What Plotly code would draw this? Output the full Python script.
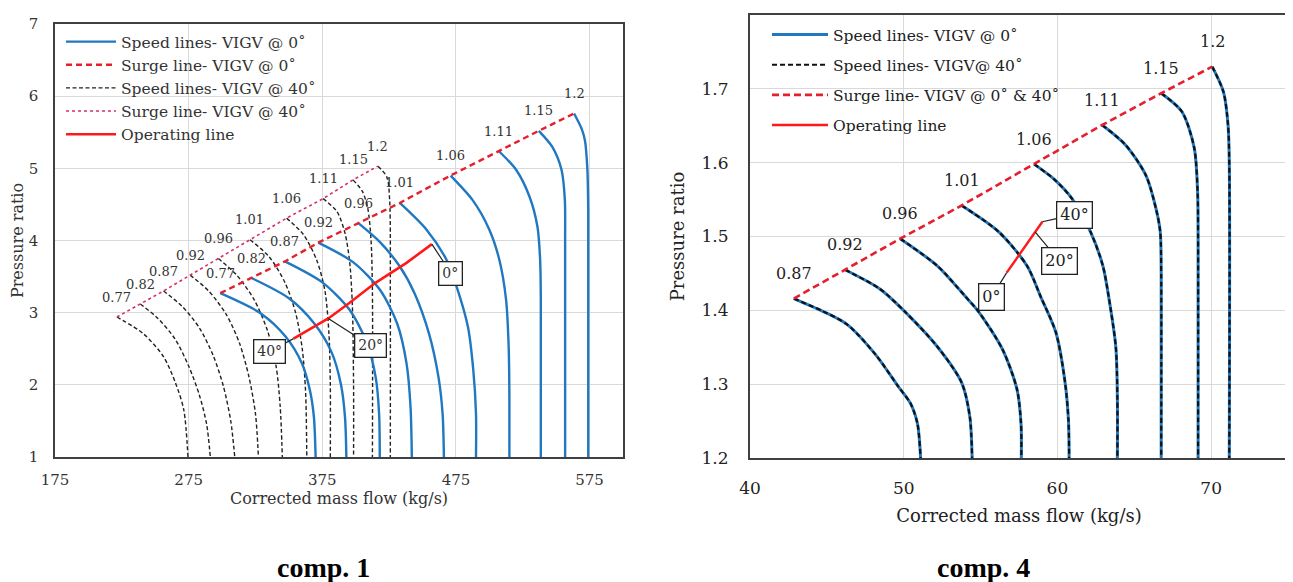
import plotly.graph_objects as go

# ---------------- comp. 1 (left) ----------------
c1_speeds = ["0.77", "0.82", "0.87", "0.92", "0.96", "1.01", "1.06", "1.11", "1.15", "1.2"]

# speed lines, VIGV @ 0 deg (blue)
c1_v0_x = [
    [298.7, 329, 347.5, 359.7, 365.7, 368.7, 370],
    [322, 350, 369, 382, 389, 392, 393],
    [347, 375, 395, 408, 415, 417.5, 418],
    [372, 398, 418, 431, 438, 441, 442],
    [402, 418, 433, 444, 455, 462, 465, 466],
    [433, 453, 468, 475.5, 484, 488, 490, 490],
    [471, 487.5, 500, 507.5, 512.5, 514.5, 515, 515],
    [507, 520, 530, 536, 538, 538.5, 538.5],
    [537, 547, 554, 556.5, 556.7, 556.7],
    [563.4, 569, 571.5, 573.3, 574, 574],
]
c1_v0_y = [
    [3.27, 2.99, 2.67, 2.30, 1.93, 1.56, 1.0],
    [3.48, 3.20, 2.85, 2.45, 2.00, 1.55, 1.0],
    [3.71, 3.42, 3.05, 2.60, 2.10, 1.60, 1.0],
    [3.97, 3.70, 3.32, 2.85, 2.30, 1.70, 1.0],
    [4.24, 3.98, 3.64, 3.27, 2.70, 2.10, 1.60, 1.0],
    [4.52, 4.15, 3.73, 3.36, 2.80, 2.20, 1.60, 1.0],
    [4.90, 4.56, 4.15, 3.73, 3.18, 2.50, 1.80, 1.0],
    [5.24, 4.98, 4.61, 4.19, 3.73, 3.18, 1.0],
    [5.52, 5.30, 4.98, 4.56, 4.00, 1.0],
    [5.76, 5.55, 5.39, 5.00, 4.40, 1.0],
]

# speed lines, VIGV @ 40 deg (black dashed)
c1_v40_x = [
    [221.3, 241, 256.2, 265.3, 271.4, 274.5],
    [238.8, 252, 265, 275, 283, 288.5, 291.2],
    [256.2, 270, 283, 293.5, 301, 306.5, 309.5],
    [276.1, 290, 303, 313, 320, 325, 327.2],
    [297.2, 311, 324, 334, 340.5, 343.5, 345.1],
    [320.9, 335, 347, 355, 360, 362.5, 363.4],
    [348.3, 361, 371, 377, 380, 381, 381],
    [375.6, 386, 392, 395.5, 397.5, 398.4, 398.4],
    [398, 405, 409, 411.5, 412.5, 412.5],
    [416.6, 423.3, 425.4, 425.9, 425.9],
]
c1_v40_y = [
    [2.94, 2.71, 2.39, 2.02, 1.65, 1.0],
    [3.12, 2.92, 2.63, 2.26, 1.86, 1.45, 1.0],
    [3.30, 3.09, 2.79, 2.40, 1.98, 1.50, 1.0],
    [3.52, 3.30, 2.98, 2.58, 2.12, 1.60, 1.0],
    [3.75, 3.52, 3.18, 2.75, 2.25, 1.70, 1.0],
    [4.01, 3.78, 3.42, 3.00, 2.50, 1.90, 1.0],
    [4.31, 4.08, 3.72, 3.30, 2.70, 2.00, 1.0],
    [4.58, 4.40, 4.10, 3.70, 3.10, 2.00, 1.0],
    [4.84, 4.68, 4.45, 4.00, 3.30, 1.0],
    [5.03, 4.88, 4.56, 3.18, 1.0],
]

# operating line (40 deg -> 20 deg -> 0 deg)
c1_ol_x = [353.5, 379.5, 395, 414.5, 438, 457]
c1_ol_y = [2.64, 2.92, 3.13, 3.41, 3.69, 3.95]
c1_ol_labels = ["40°", "20°", "0°"]

c1_xticks = [175, 275, 375, 475, 575]

# ---------------- comp. 4 (right) ----------------
c4_speeds = ["0.87", "0.92", "0.96", "1.01", "1.06", "1.11", "1.15", "1.2"]
c4_x = [
    [42.85, 44.71, 46.31, 48.17, 49.64, 50.44, 50.89, 51.1],
    [46.18, 48.45, 50.04, 52.18, 53.77, 54.30, 54.45],
    [49.77, 52.2, 54.0, 54.84, 56.43, 57.37, 57.63, 57.65],
    [53.77, 56.2, 58.03, 58.9, 59.9, 60.5, 60.72, 60.76],
    [58.48, 59.76, 60.96, 62.16, 62.96, 63.36, 63.8, 63.9, 63.9],
    [62.91, 64.43, 65.75, 66.42, 66.69, 66.75, 66.75],
    [66.75, 68.1, 68.9, 69.12, 69.15, 69.15],
    [70.07, 70.8, 71.1, 71.18, 71.18],
]
c4_y = [
    [1.416, 1.399, 1.381, 1.340, 1.297, 1.274, 1.247, 1.2],
    [1.455, 1.429, 1.399, 1.351, 1.302, 1.256, 1.2],
    [1.497, 1.460, 1.419, 1.399, 1.347, 1.293, 1.247, 1.2],
    [1.542, 1.506, 1.460, 1.419, 1.370, 1.302, 1.25, 1.2],
    [1.598, 1.578, 1.551, 1.506, 1.460, 1.415, 1.35, 1.28, 1.2],
    [1.651, 1.624, 1.583, 1.537, 1.506, 1.45, 1.2],
    [1.694, 1.669, 1.62, 1.56, 1.50, 1.2],
    [1.730, 1.696, 1.651, 1.60, 1.2],
]
c4_ol_x = [56.7, 58.56, 59.02]
c4_ol_y = [1.451, 1.506, 1.520]
c4_ol_labels = ["0°", "20°", "40°"]
c4_xticks = [40, 50, 60, 70]

# ---------------- layout helpers ----------------
# the page body keeps its default 8px margin, so the figure is drawn 8px in from the window edge
PAGE_OFF = 8
W, H = 1293 - PAGE_OFF, 582 - PAGE_OFF


def px_x(p):
    return (p - PAGE_OFF) / W


def px_y(p):
    return 1 - (p - PAGE_OFF) / H


FONT = "DejaVu Serif"
BLUE = "#1F78C1"
RED_D = "#E3202C"
RED = "#FF1A1A"
PINK = "#D6306A"
TXT = "#333333"
TXT2 = "#222222"
GRID = "#D9D9D9"
FRAME = "#404040"

fig = go.Figure()

# comp.1 traces
for i, (xs, ys) in enumerate(zip(c1_v40_x, c1_v40_y)):
    fig.add_trace(go.Scatter(x=xs, y=ys, mode="lines", xaxis="x", yaxis="y",
                             line=dict(color="#222222", width=1.4, dash="4px,2.5px", shape="spline", smoothing=0.8),
                             name="Speed lines- VIGV @ 40˚", legendgroup="c1v40", showlegend=(i == 0),
                             legend="legend", legendrank=3))
fig.add_trace(go.Scatter(x=[c[0] for c in c1_v40_x], y=[c[0] for c in c1_v40_y], mode="lines",
                         xaxis="x", yaxis="y", line=dict(color=PINK, width=1.6, dash="dot"),
                         name="Surge line- VIGV @ 40˚", legendgroup="c1s40", legend="legend", legendrank=4))
for i, (xs, ys) in enumerate(zip(c1_v0_x, c1_v0_y)):
    fig.add_trace(go.Scatter(x=xs, y=ys, mode="lines", xaxis="x", yaxis="y",
                             line=dict(color=BLUE, width=2.4, shape="spline", smoothing=0.8),
                             name="Speed lines- VIGV @ 0˚", legendgroup="c1v0", showlegend=(i == 0),
                             legend="legend", legendrank=1))
fig.add_trace(go.Scatter(x=[c[0] for c in c1_v0_x], y=[c[0] for c in c1_v0_y], mode="lines",
                         xaxis="x", yaxis="y", line=dict(color=RED_D, width=2.4, dash="6px,4px"),
                         name="Surge line- VIGV @ 0˚", legendgroup="c1s0", legend="legend", legendrank=2))
fig.add_trace(go.Scatter(x=c1_ol_x, y=c1_ol_y, mode="lines", xaxis="x", yaxis="y",
                         line=dict(color=RED, width=2.6), name="Operating line",
                         legendgroup="c1ol", legend="legend", legendrank=5))

# comp.4 traces
for i, (xs, ys) in enumerate(zip(c4_x, c4_y)):
    fig.add_trace(go.Scatter(x=xs, y=ys, mode="lines", xaxis="x2", yaxis="y2",
                             line=dict(color=BLUE, width=3, shape="spline", smoothing=0.8),
                             name="Speed lines- VIGV @ 0˚", legendgroup="c4v0", showlegend=(i == 0),
                             legend="legend2", legendrank=1))
for i, (xs, ys) in enumerate(zip(c4_x, c4_y)):
    fig.add_trace(go.Scatter(x=xs, y=ys, mode="lines", xaxis="x2", yaxis="y2",
                             line=dict(color="#111111", width=2.2, dash="5px,3px", shape="spline", smoothing=0.8),
                             name="Speed lines- VIGV@ 40˚", legendgroup="c4v40", showlegend=(i == 0),
                             legend="legend2", legendrank=2))
fig.add_trace(go.Scatter(x=[c[0] for c in c4_x], y=[c[0] for c in c4_y], mode="lines",
                         xaxis="x2", yaxis="y2", line=dict(color=RED_D, width=2.6, dash="7px,4px"),
                         name="Surge line- VIGV @ 0˚ & 40˚", legendgroup="c4s", legend="legend2", legendrank=3))
fig.add_trace(go.Scatter(x=c4_ol_x, y=c4_ol_y, mode="lines", xaxis="x2", yaxis="y2",
                         line=dict(color=RED, width=2.4), name="Operating line",
                         legendgroup="c4ol", legend="legend2", legendrank=4))

annotations = []
# speed labels
for lab, xs, ys in zip(c1_speeds, c1_v0_x, c1_v0_y):
    annotations.append(dict(x=xs[0], y=ys[0], xref="x", yref="y", text=lab, showarrow=False,
                            yshift=20, font=dict(family=FONT, size=13, color=TXT)))
for lab, xs, ys in zip(c1_speeds, c1_v40_x, c1_v40_y):
    annotations.append(dict(x=xs[0], y=ys[0], xref="x", yref="y", text=lab, showarrow=False,
                            yshift=20, font=dict(family=FONT, size=13, color=TXT)))
for lab, xs, ys in zip(c4_speeds, c4_x, c4_y):
    annotations.append(dict(x=xs[0], y=ys[0], xref="x2", yref="y2", text=lab, showarrow=False,
                            yshift=25, font=dict(family=FONT, size=16, color=TXT2)))

# operating-point callouts
box = dict(showarrow=True, arrowhead=0, arrowwidth=1.2, arrowcolor="#222222",
           bordercolor="#222222", borderwidth=1.3, borderpad=3, bgcolor="white")
c1_offsets = [(-24, 13), (42, 27), (19, 29)]
for idx, lab, (ax, ay) in zip([0, 1, len(c1_ol_x) - 1], c1_ol_labels, c1_offsets):
    annotations.append(dict(x=c1_ol_x[idx], y=c1_ol_y[idx], xref="x", yref="y", text=lab,
                            ax=ax, ay=ay, font=dict(family=FONT, size=14, color=TXT), **box))
c4_offsets = [(-15, 24), (24, 29), (32, -7)]
for idx, lab, (ax, ay) in zip([0, 1, 2], c4_ol_labels, c4_offsets):
    annotations.append(dict(x=c4_ol_x[idx], y=c4_ol_y[idx], xref="x2", yref="y2", text=lab,
                            ax=ax, ay=ay, font=dict(family=FONT, size=16, color=TXT2), **box))

# captions
for cx, cap in [(323, "comp. 1"), (983, "comp. 4")]:
    annotations.append(dict(x=px_x(cx), y=px_y(567), xref="paper", yref="paper", text="<b>" + cap + "</b>",
                            xanchor="center", yanchor="middle", showarrow=False,
                            font=dict(family="Liberation Serif", size=28, color="black")))

axis_common = dict(showline=True, mirror=True, linecolor=FRAME, showgrid=True, gridcolor=GRID,
                   gridwidth=1.3, zeroline=False, ticks="", automargin=False)

fig.update_layout(
    width=W, height=H, margin=dict(l=0, r=0, t=0, b=0),
    paper_bgcolor="white", plot_bgcolor="white",
    font=dict(family=FONT, color=TXT),
    xaxis=dict(domain=[px_x(55), px_x(623)], range=[175, 600], tickvals=c1_xticks, linewidth=1.6,
               tickfont=dict(size=15, color=TXT), ticklabelstandoff=8, anchor="y",
               title=dict(text="Corrected mass flow (kg/s)", font=dict(size=16, color=TXT), standoff=4),
               **axis_common),
    yaxis=dict(domain=[px_y(457), px_y(24)], range=[1, 7], dtick=1, linewidth=1.6,
               tickfont=dict(size=15, color=TXT), ticklabelstandoff=12, anchor="x",
               title=dict(text="Pressure ratio", font=dict(size=16, color=TXT), standoff=8),
               **axis_common),
    xaxis2=dict(domain=[px_x(750), px_x(1288)], range=[40, 75], tickvals=c4_xticks, linewidth=2,
                tickfont=dict(size=17, color=TXT2), ticklabelstandoff=14, anchor="y2",
                title=dict(text="Corrected mass flow (kg/s)", font=dict(size=18, color=TXT2), standoff=12),
                **axis_common),
    yaxis2=dict(domain=[px_y(458), px_y(15)], range=[1.2, 1.8], dtick=0.1, tickformat=".1f",
                linewidth=2, tickfont=dict(size=17, color=TXT2), ticklabelstandoff=16, anchor="x2",
                title=dict(text="Pressure ratio", font=dict(size=18, color=TXT2), standoff=12),
                **axis_common),
    legend=dict(x=px_x(61), y=px_y(25), xanchor="left", yanchor="top", bgcolor="rgba(0,0,0,0)",
                font=dict(family=FONT, size=15.5, color=TXT), tracegroupgap=0, traceorder="grouped",
                itemwidth=50),
    legend2=dict(x=px_x(767), y=px_y(18), xanchor="left", yanchor="top", bgcolor="rgba(0,0,0,0)",
                 font=dict(family=FONT, size=15.5, color=TXT2), tracegroupgap=7, traceorder="grouped",
                 itemwidth=56),
    annotations=annotations,
    showlegend=True,
)

fig.write_html("out.html")
